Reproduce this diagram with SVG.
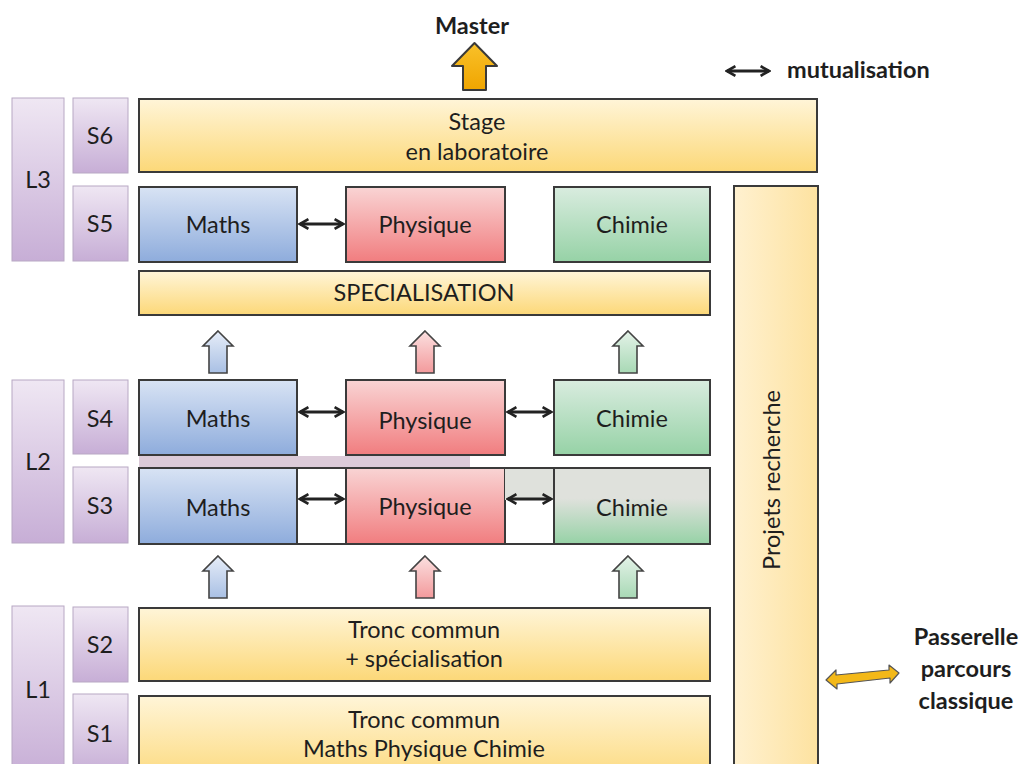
<svg xmlns="http://www.w3.org/2000/svg" width="1022" height="764" viewBox="0 0 1022 764">
<defs>
<linearGradient id="gY" x1="0" y1="0" x2="0" y2="1"><stop offset="0" stop-color="#fff5d8"/><stop offset="1" stop-color="#fcd878"/></linearGradient>
<linearGradient id="gYc" x1="0" y1="0" x2="1" y2="0"><stop offset="0" stop-color="#fff1d0"/><stop offset="1" stop-color="#fde2a0"/></linearGradient>
<linearGradient id="gB" x1="0" y1="0" x2="0" y2="1"><stop offset="0" stop-color="#d8e3f4"/><stop offset="1" stop-color="#8eacdc"/></linearGradient>
<linearGradient id="gR" x1="0" y1="0" x2="0" y2="1"><stop offset="0" stop-color="#f9d4d4"/><stop offset="1" stop-color="#f17d7f"/></linearGradient>
<linearGradient id="gG" x1="0" y1="0" x2="0" y2="1"><stop offset="0" stop-color="#d9ecdf"/><stop offset="1" stop-color="#96d2a6"/></linearGradient>
<linearGradient id="gG2" x1="0" y1="0" x2="0" y2="1"><stop offset="0" stop-color="#dfe1dc"/><stop offset="0.4" stop-color="#dfe1dc"/><stop offset="1" stop-color="#96d2a6"/></linearGradient>
<linearGradient id="gP" x1="0" y1="0" x2="0" y2="1"><stop offset="0" stop-color="#efe7f3"/><stop offset="1" stop-color="#c7aed6"/></linearGradient>
<linearGradient id="gO" x1="0" y1="0" x2="0" y2="1"><stop offset="0" stop-color="#f9c12a"/><stop offset="1" stop-color="#f0a500"/></linearGradient>
<linearGradient id="aB" x1="0" y1="0" x2="0" y2="1"><stop offset="0" stop-color="#e6edf8"/><stop offset="1" stop-color="#a9c0e4"/></linearGradient>
<linearGradient id="aR" x1="0" y1="0" x2="0" y2="1"><stop offset="0" stop-color="#fbe0e0"/><stop offset="1" stop-color="#f39a9c"/></linearGradient>
<linearGradient id="aG" x1="0" y1="0" x2="0" y2="1"><stop offset="0" stop-color="#e4f2e8"/><stop offset="1" stop-color="#a8d9b5"/></linearGradient>
<marker id="ah" viewBox="0 0 10 10" refX="8" refY="5" markerWidth="4" markerHeight="4" orient="auto-start-reverse" markerUnits="strokeWidth">
<path d="M1,1 L8,5 L1,9" fill="none" stroke="#222" stroke-width="2.2" stroke-linejoin="miter"/>
</marker>
<path id="upArrow" d="M0,0 L15,15 L9,15 L9,42 L-9,42 L-9,15 L-15,15 Z"/>
</defs>
<style>
.t{font-family:Lato,"Open Sans","Liberation Sans",sans-serif;font-size:23.5px;fill:#1e1e1e;text-anchor:middle}
.b{font-weight:bold}
.box{stroke:#3a3a3a;stroke-width:2}
.sem{fill:url(#gP);stroke:#b8a8c4;stroke-width:1}
.mut{stroke:#222;stroke-width:3;fill:none;marker-start:url(#ah);marker-end:url(#ah)}
.ua{stroke:#444;stroke-width:1.6}
</style>
<rect width="1022" height="764" fill="#fff"/>

<g id="master">
<text class="t b" x="472" y="34">Master</text>
<path d="M474.5,43 L497,66 L486,66 L486,90 L463,90 L463,66 L452,66 Z" fill="url(#gO)" stroke="#3a3a3a" stroke-width="2" stroke-linejoin="round"/>
</g>

<g id="legend">
<line class="mut" x1="727" y1="71" x2="769" y2="71"/>
<text class="t b" x="787" y="78" style="text-anchor:start">mutualisation</text>
</g>

<g id="L3"><rect class="sem" x="12" y="98" width="52" height="163"/><text class="t" x="38" y="188">L3</text></g>
<g id="S6"><rect class="sem" x="73" y="98" width="55" height="75"/><text class="t" x="100" y="144">S6</text></g>
<g id="S5"><rect class="sem" x="73" y="186" width="55" height="75"/><text class="t" x="100" y="232">S5</text></g>
<g id="L2"><rect class="sem" x="12" y="380" width="52" height="163"/><text class="t" x="38" y="470">L2</text></g>
<g id="S4"><rect class="sem" x="73" y="380" width="55" height="74"/><text class="t" x="100" y="427">S4</text></g>
<g id="S3"><rect class="sem" x="73" y="467" width="55" height="76"/><text class="t" x="100" y="514">S3</text></g>
<g id="L1"><rect class="sem" x="12" y="606" width="52" height="170"/><text class="t" x="38" y="698">L1</text></g>
<g id="S2"><rect class="sem" x="73" y="607" width="55" height="75"/><text class="t" x="100" y="653">S2</text></g>
<g id="S1"><rect class="sem" x="73" y="694" width="55" height="80"/><text class="t" x="100" y="742">S1</text></g>

<g id="stage"><rect class="box" x="139" y="99" width="678" height="73" fill="url(#gY)"/>
<text class="t" x="477" y="130">Stage</text><text class="t" x="477" y="160">en laboratoire</text></g>

<g id="projets"><rect class="box" x="734" y="186" width="84" height="600" fill="url(#gYc)"/>
<text class="t" transform="translate(780,480) rotate(-90)">Projets recherche</text></g>

<g id="maths5"><rect class="box" x="139" y="187" width="158" height="75" fill="url(#gB)"/><text class="t" x="218" y="233">Maths</text></g>
<g id="phys5"><rect class="box" x="346" y="187" width="159" height="75" fill="url(#gR)"/><text class="t" x="425" y="233">Physique</text></g>
<g id="chim5"><rect class="box" x="554" y="187" width="156" height="75" fill="url(#gG)"/><text class="t" x="632" y="233">Chimie</text></g>

<g id="specialisation"><rect class="box" x="139" y="271" width="571" height="44" fill="url(#gY)"/><text class="t" x="424" y="301">SPECIALISATION</text></g>

<g id="maths4"><rect class="box" x="139" y="380" width="158" height="75" fill="url(#gB)"/><text class="t" x="218" y="427">Maths</text></g>
<g id="phys4"><rect class="box" x="346" y="380" width="159" height="75" fill="url(#gR)"/><text class="t" x="425" y="429">Physique</text></g>
<g id="chim4"><rect class="box" x="554" y="380" width="156" height="75" fill="url(#gG)"/><text class="t" x="632" y="427">Chimie</text></g>

<rect x="139" y="456" width="331" height="11" fill="#dccbd9"/>

<g id="maths3"><rect class="box" x="139" y="468" width="158" height="76" fill="url(#gB)"/><text class="t" x="218" y="516">Maths</text></g>
<g id="phys3"><rect class="box" x="346" y="468" width="159" height="76" fill="url(#gR)"/><text class="t" x="425" y="515">Physique</text></g>
<rect x="505" y="469" width="49" height="31" fill="#dfe1dc"/>
<g id="chim3"><rect class="box" x="554" y="468" width="156" height="76" fill="url(#gG2)"/><text class="t" x="632" y="516">Chimie</text></g>
<g id="s3frame" fill="none" stroke="#3a3a3a" stroke-width="2"><line x1="139" y1="468" x2="710" y2="468"/><line x1="139" y1="544" x2="710" y2="544"/></g>

<g id="tronc2"><rect class="box" x="139" y="608" width="571" height="73" fill="url(#gY)"/>
<text class="t" x="424" y="638">Tronc commun</text><text class="t" x="424" y="667">+ spécialisation</text></g>
<g id="tronc1"><rect class="box" x="139" y="696" width="571" height="90" fill="url(#gY)"/>
<text class="t" x="424" y="728">Tronc commun</text><text class="t" x="424" y="757">Maths Physique Chimie</text></g>

<g id="passerelle">
<text class="t b" x="966" y="645">Passerelle</text>
<text class="t b" x="966" y="677">parcours</text>
<text class="t b" x="966" y="709">classique</text>
</g>

<g id="connectors">
<line class="mut" x1="300" y1="224" x2="343" y2="224"/>
<line class="mut" x1="300" y1="412" x2="343" y2="412"/>
<line class="mut" x1="508" y1="412" x2="551" y2="412"/>
<line class="mut" x1="300" y1="499" x2="343" y2="499"/>
<line class="mut" x1="508" y1="499" x2="551" y2="499"/>
<use href="#upArrow" x="218" y="331" class="ua" fill="url(#aB)"/>
<use href="#upArrow" x="425" y="331" class="ua" fill="url(#aR)"/>
<use href="#upArrow" x="628" y="331" class="ua" fill="url(#aG)"/>
<use href="#upArrow" x="218" y="556" class="ua" fill="url(#aB)"/>
<use href="#upArrow" x="425" y="556" class="ua" fill="url(#aR)"/>
<use href="#upArrow" x="628" y="556" class="ua" fill="url(#aG)"/>
<path d="M826,680 L836,670 L836,675 L889,670 L889,665 L899,673 L890,683 L890,678 L837,684 L837,689 Z" fill="#f3b818" stroke="#555" stroke-width="1.2" stroke-linejoin="round"/>
</g>
</svg>
